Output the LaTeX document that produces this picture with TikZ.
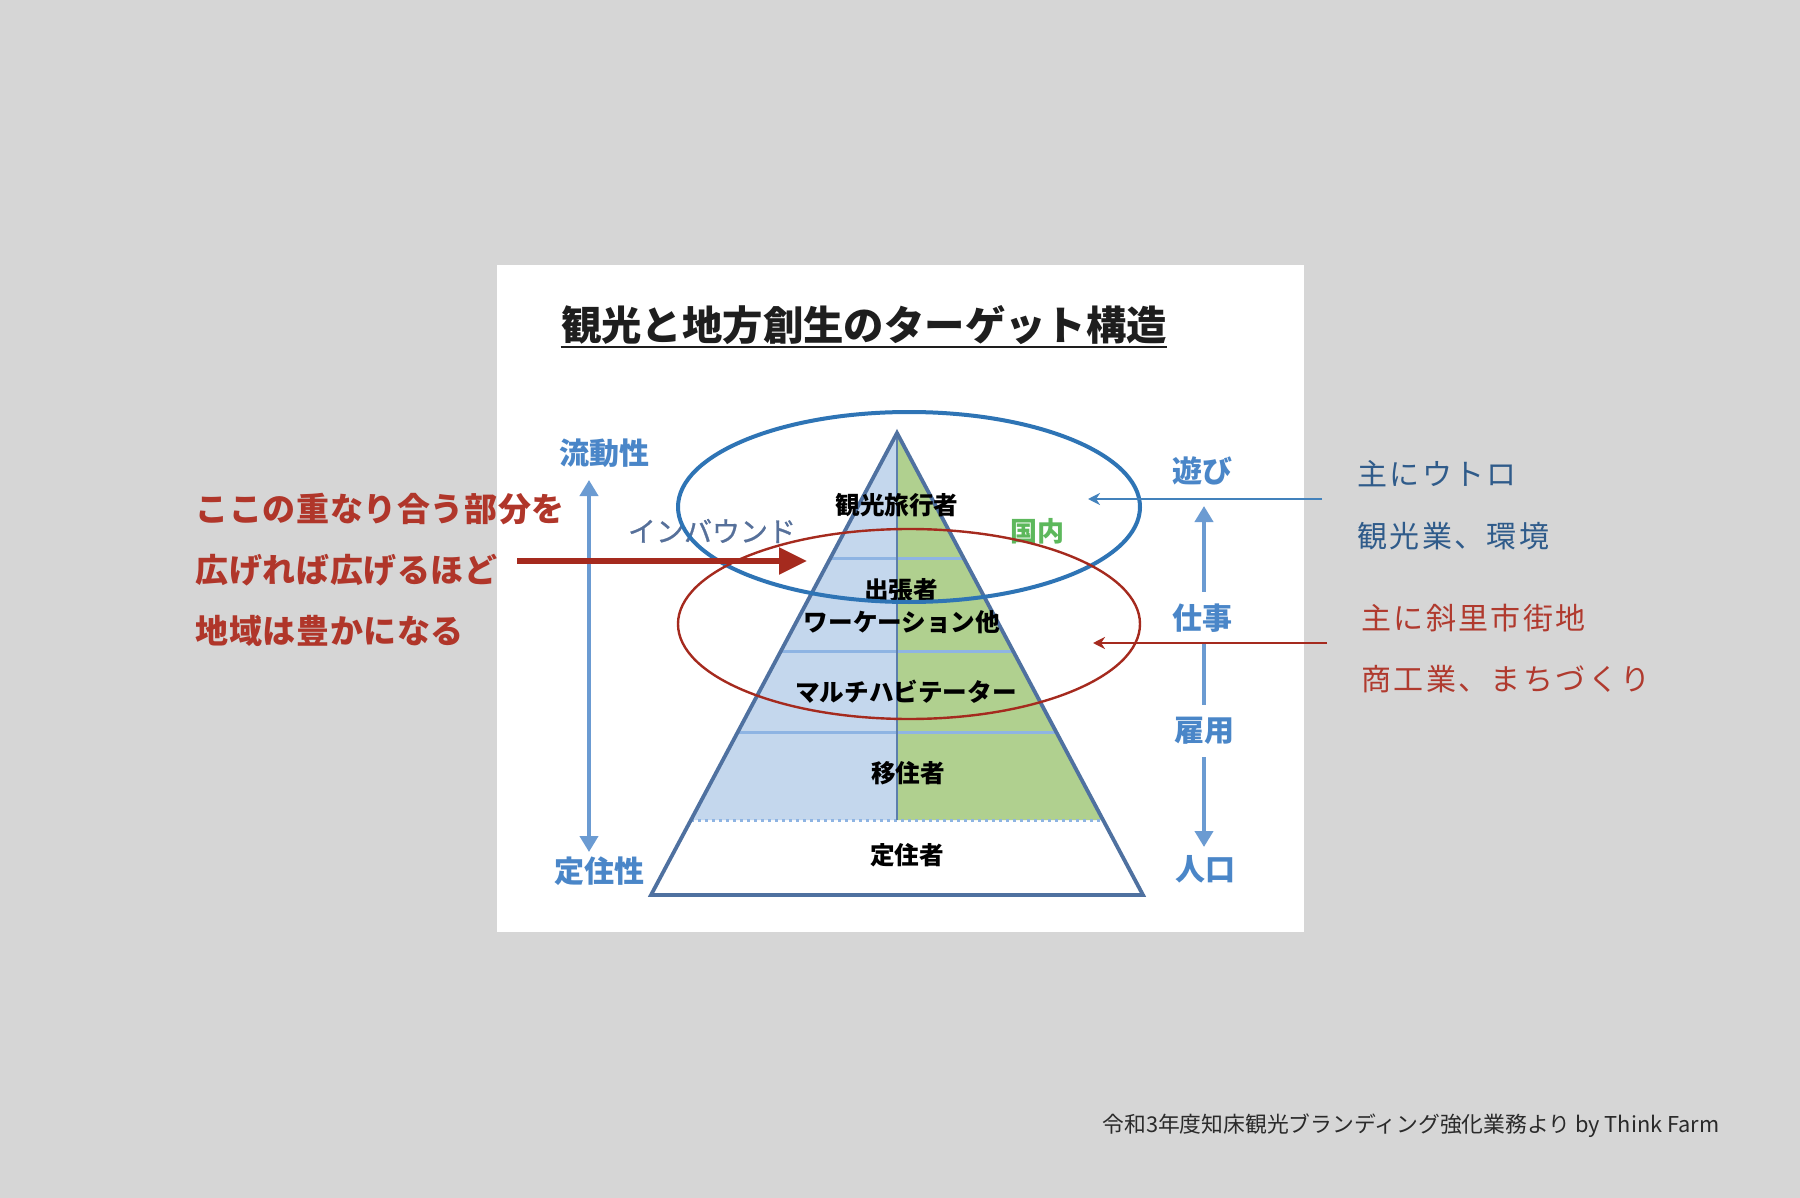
\documentclass[tikz,border=0pt]{standalone}
\usepackage{fontspec}
\setmainfont{Noto Sans CJK JP}
\usetikzlibrary{calc,arrows.meta}
\definecolor{bg}{HTML}{D6D6D6}
\definecolor{pblue}{HTML}{C4D7ED}
\definecolor{pgreen}{HTML}{B0D08F}
\definecolor{pline}{HTML}{4F71A0}
\definecolor{bandline}{HTML}{8EB4E3}
\definecolor{ellblue}{HTML}{2E74B5}
\definecolor{ellred}{HTML}{A52A1E}
\definecolor{axisblue}{HTML}{6B9BD2}
\definecolor{lblblue}{HTML}{4A86C8}
\definecolor{redtxt}{HTML}{B0362A}
\definecolor{rtblue}{HTML}{2F5B8A}
\definecolor{rtred}{HTML}{B03A2E}
\definecolor{inbound}{HTML}{56709A}
\definecolor{kokunai}{HTML}{5DB85C}
\definecolor{foot}{HTML}{2A2A2A}
\definecolor{titlec}{HTML}{1E1E1E}
\tikzset{
  lvl/.style={font=\fontsize{12.3}{14}\selectfont\bfseries, text=black, inner sep=0pt},
  axlbl/.style={font=\fontsize{15}{16}\selectfont\bfseries, text=lblblue, fill=white, inner xsep=2pt, inner ysep=6pt},
  redlbl/.style={font=\fontsize{16.5}{18}\selectfont\bfseries\addfontfeature{LetterSpace=2}, text=redtxt, anchor=west, inner sep=0pt},
  rtext/.style={font=\fontsize{15}{16}\selectfont\addfontfeature{LetterSpace=8}, anchor=west, inner sep=0pt},
  axisarrow/.style={draw=axisblue, line width=2.4pt, {Triangle[width=9pt,length=8pt]}-{Triangle[width=9pt,length=8pt]}},
}
\begin{document}
\begin{tikzpicture}[x=0.5pt,y=-0.5pt]
\useasboundingbox (0,0) rectangle (1800,1198);
\fill[bg] (0,0) rectangle (1800,1198);
\fill[white] (497,265) rectangle (1304,932);

% title
\node[font=\fontsize{20.2}{22}\selectfont\bfseries, text=titlec, inner sep=0pt] (title) at (864,325) {観光と地方創生のターゲット構造};
\draw[titlec, line width=1.1pt] ($(title.south west)+(0,2)$) -- ($(title.south east)+(0,2)$);

% pyramid
\coordinate (A) at (897,433);
\coordinate (BL) at (651,895);
\coordinate (BR) at (1143,895);
\coordinate (L1) at ($(A)!0.2727!(BL)$);
\coordinate (R1) at ($(A)!0.2727!(BR)$);
\coordinate (L2) at ($(A)!0.4740!(BL)$);
\coordinate (R2) at ($(A)!0.4740!(BR)$);
\coordinate (L3) at ($(A)!0.6472!(BL)$);
\coordinate (R3) at ($(A)!0.6472!(BR)$);
\coordinate (L4) at ($(A)!0.8377!(BL)$);
\coordinate (R4) at ($(A)!0.8377!(BR)$);
\coordinate (M4) at (897,820);
\fill[pblue] (A) -- (L4) -- (M4) -- cycle;
\fill[pgreen] (A) -- (M4) -- (R4) -- cycle;
\draw[bandline, line width=1.5pt] (L1) -- (R1) (L2) -- (R2) (L3) -- (R3);
\draw[bandline, line width=1.5pt, dotted] (L4) -- (R4);
\draw[pline!80!bandline, line width=1.3pt] (A) -- (M4);
\draw[pline, line width=1.9pt, line join=miter] (A) -- (BL) -- (BR) -- cycle;

% level labels
\node[lvl] (kanko) at (897,505) {観光旅行者};
\node[lvl] (shucho) at (901,590) {出張者};
\node[lvl] (work) at (902,622) {ワーケーション他};
\node[lvl] (multi) at (906,692) {マルチハビテーター};
\node[lvl] (ijuu) at (908,773) {移住者};
\node[lvl] (teijuu) at (907,855) {定住者};
\node[font=\fontsize{14}{15}\selectfont\addfontfeature{FakeBold=0.8}, text=inbound, inner sep=0pt] (inb) at (712,531) {インバウンド};
\node[font=\fontsize{13.5}{15}\selectfont\bfseries, text=kokunai, inner sep=0pt] (dom) at (1037,531) {国内};

% ellipses
\draw[ellblue, line width=2pt] (909,507) ellipse [x radius=231, y radius=95];
\draw[ellred, line width=1.2pt] (909,624) ellipse [x radius=231, y radius=95];

% left axis
\node[axlbl, fill=none] (ryudo) at (604,453) {流動性};
\node[axlbl, fill=none] (teiju) at (599,871) {定住性};
\coordinate (lt) at (589,480);
\coordinate (lb) at (589,852);
\draw[axisarrow] (lt) -- (lb);

% right axis
\coordinate (rt) at (1204,506);
\coordinate (rb) at (1204,847);
\draw[axisarrow] (rt) -- (rb);
\node[axlbl, fill=none] (asobi) at (1202,471) {遊び};
\node[axlbl] (shigoto) at (1202,618) {仕事};
\node[axlbl] (koyou) at (1204,731) {雇用};
\node[axlbl, fill=none] (jinko) at (1205,869) {人口};

% left red text
\node[redlbl] (t1) at (195,509) {ここの重なり合う部分を};
\node[redlbl] (t2) at (195,570) {広げれば広げるほど};
\node[redlbl] (t3) at (195,631) {地域は豊かになる};
\coordinate (ra1) at (517,561);
\coordinate (ra2) at (807,561);
\draw[ellred, line width=2.6pt, -{Triangle[width=13pt,length=14pt]}] (ra1) -- (ra2);

% right notes
\node[rtext, text=rtblue] (u1) at (1357,474) {主にウトロ};
\node[rtext, text=rtblue] (u2) at (1357,536) {観光業、環境};
\node[rtext, text=rtred] (s1) at (1361,618) {主に斜里市街地};
\node[rtext, text=rtred] (s2) at (1361,679) {商工業、まちづくり};
\coordinate (ba1) at (1322,499);
\coordinate (ba2) at (1088,499);
\draw[ellblue!90!white, line width=1pt, -{Stealth[width=6pt,length=6pt]}] (ba1) -- (ba2);
\coordinate (rr1) at (1327,643);
\coordinate (rr2) at (1093,643);
\draw[ellred, line width=1pt, -{Stealth[width=6pt,length=6pt]}] (rr1) -- (rr2);

% footer
\node[font=\fontsize{10.9}{12}\selectfont, text=foot, anchor=west, inner sep=0pt] (footer) at (1102,1126) {令和3年度知床観光ブランディング強化業務より by Think Farm};
\end{tikzpicture}
\end{document}
